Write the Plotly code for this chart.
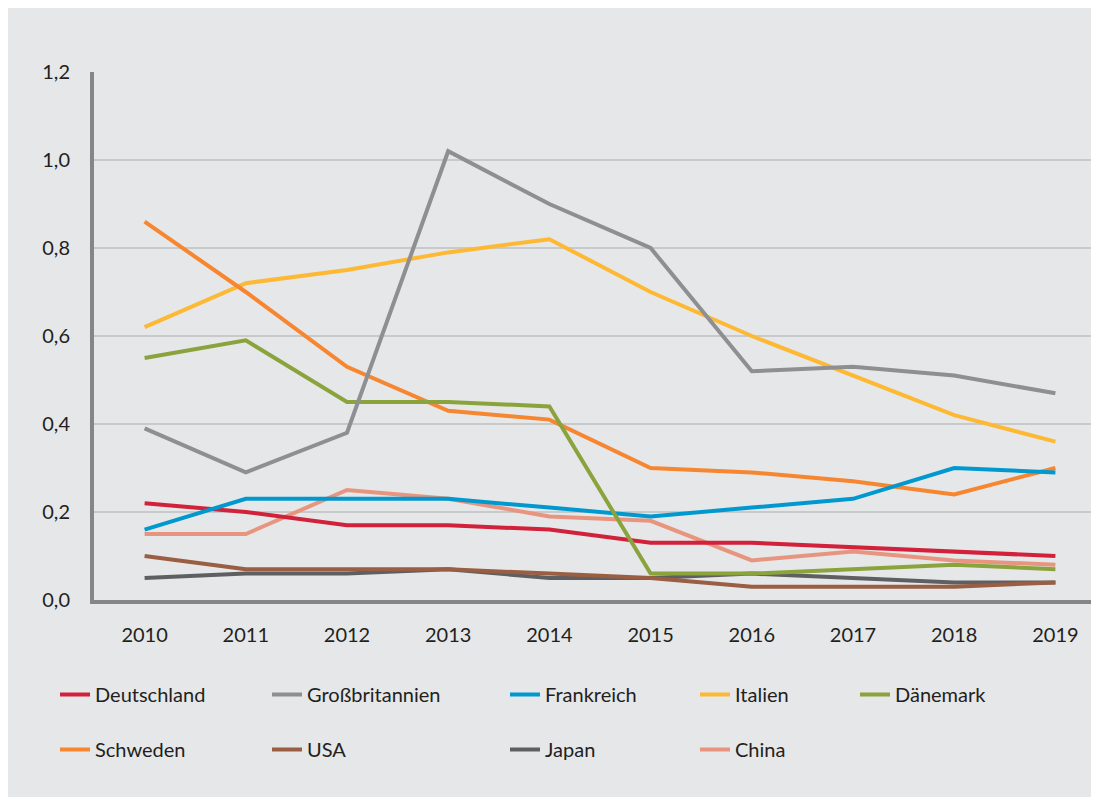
import plotly.graph_objects as go

years = ["2010", "2011", "2012", "2013", "2014", "2015", "2016", "2017", "2018", "2019"]

deutschland = [0.22, 0.20, 0.17, 0.17, 0.16, 0.13, 0.13, 0.12, 0.11, 0.10]
grossbritannien = [0.39, 0.29, 0.38, 1.02, 0.90, 0.80, 0.52, 0.53, 0.51, 0.47]
frankreich = [0.16, 0.23, 0.23, 0.23, 0.21, 0.19, 0.21, 0.23, 0.30, 0.29]
italien = [0.62, 0.72, 0.75, 0.79, 0.82, 0.70, 0.60, 0.51, 0.42, 0.36]
daenemark = [0.55, 0.59, 0.45, 0.45, 0.44, 0.06, 0.06, 0.07, 0.08, 0.07]
schweden = [0.86, 0.70, 0.53, 0.43, 0.41, 0.30, 0.29, 0.27, 0.24, 0.30]
usa = [0.10, 0.07, 0.07, 0.07, 0.06, 0.05, 0.03, 0.03, 0.03, 0.04]
japan = [0.05, 0.06, 0.06, 0.07, 0.05, 0.05, 0.06, 0.05, 0.04, 0.04]
china = [0.15, 0.15, 0.25, 0.23, 0.19, 0.18, 0.09, 0.11, 0.09, 0.08]

y_ticks = [0.0, 0.2, 0.4, 0.6, 0.8, 1.0, 1.2]

# (name, values, color, legend, rank) in drawing order
series = [
    ("China", china, "#e8957f", "legend4", 2),
    ("Japan", japan, "#5f5f61", "legend3", 2),
    ("USA", usa, "#9a5e42", "legend2", 2),
    ("Italien", italien, "#fdb933", "legend4", 1),
    ("Schweden", schweden, "#f68630", "legend", 2),
    ("Deutschland", deutschland, "#d2213a", "legend", 1),
    ("Frankreich", frankreich, "#0099cf", "legend3", 1),
    ("Dänemark", daenemark, "#8aa33c", "legend5", 1),
    ("Großbritannien", grossbritannien, "#8e8f91", "legend2", 1),
]

FONT = "Lato, 'Open Sans', sans-serif"
TXT = "#231f20"
BG = "#e6e7e9"

fig = go.Figure()
for name, vals, color, leg, rank in series:
    fig.add_trace(go.Scatter(
        x=years, y=vals, name=name, mode="lines",
        line=dict(color=color, width=4),
        legend=leg, legendrank=rank, legendgroup=name,
    ))

# figure coordinates (page has an 8px body margin)
L, T, B = 86, 64, 592
PW = 1012
W, H = 1111, 789
R = W - L - PW
ph = B - T


def px_x(p):
    return (p - L) / PW


def px_y(p):
    return (B - p) / ph


leg_common = dict(
    orientation="v", xanchor="left", yanchor="top",
    bgcolor="rgba(0,0,0,0)", borderwidth=0,
    font=dict(family=FONT, size=20, color=TXT),
    tracegroupgap=26, itemwidth=30,
)
y_leg = px_y(667)
legs = {}
for key, xpx in [("legend", 47), ("legend2", 259), ("legend3", 497), ("legend4", 687), ("legend5", 847)]:
    legs[key] = dict(leg_common, x=px_x(xpx), y=y_leg)

fig.update_layout(
    width=W, height=H,
    margin=dict(l=L, r=R, t=T, b=H - B, pad=0, autoexpand=False),
    paper_bgcolor=BG,
    plot_bgcolor=BG,
    separators=",.",
    font=dict(family=FONT, size=20, color=TXT),
    showlegend=True,
    **legs,
    xaxis=dict(
        type="category", range=[-0.5, 9.5],
        showgrid=False, zeroline=False,
        showline=True, linecolor="#858688", linewidth=4,
        ticks="", ticklabelstandoff=14, automargin=False,
        tickfont=dict(family=FONT, size=20, color=TXT),
    ),
    yaxis=dict(
        range=[0, 1.2], tickvals=y_ticks, tickformat=".1f",
        showgrid=True, gridcolor="#c8c9cb", gridwidth=2,
        zeroline=False, automargin=False,
        showline=True, linecolor="#858688", linewidth=4,
        ticks="", ticklabelstandoff=16,
        tickfont=dict(family=FONT, size=20, color=TXT),
    ),
)

fig.write_html("out.html")
